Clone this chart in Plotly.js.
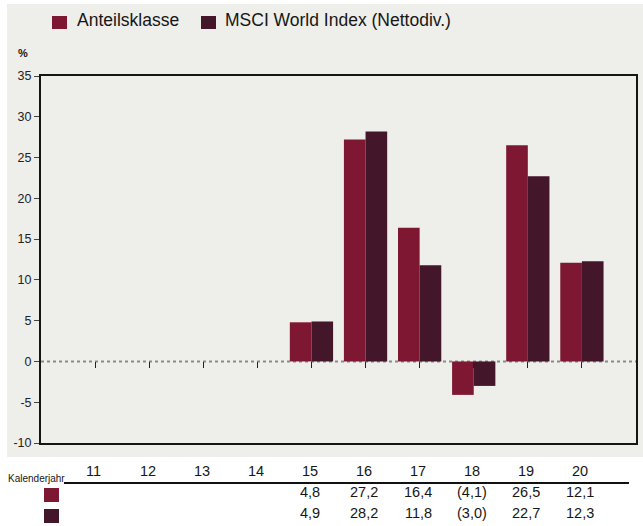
<!DOCTYPE html>
<html>
<head>
<meta charset="utf-8">
<script src="https://cdn.plot.ly/plotly-3.0.1.min.js"></script>
<style>html,body{margin:0;padding:0;background:#fff;}#chart{width:643px;height:526px;}</style>
</head>
<body>
<div id="chart"></div>
<script>
// ---- data ----
const years = ['11','12','13','14','15','16','17','18','19','20'];
const anteilsklasse = [null, null, null, null, 4.8, 27.2, 16.4, -4.1, 26.5, 12.1];
const msciWorld = [null, null, null, null, 4.9, 28.2, 11.8, -3.0, 22.7, 12.3];
const seriesNames = ['Anteilsklasse', 'MSCI World Index (Nettodiv.)'];
const yTicks = [-10, -5, 0, 5, 10, 15, 20, 25, 30, 35];

// ---- styling ----
const FONT = '"Liberation Sans", Arial, sans-serif';
const TXT = '#161616';
const C1 = '#7e1832';
const C2 = '#44162a';
const BG = '#eeeeea';
const W = 643, H = 526;
const M = {l: 41, r: 7, t: 76, b: 83};
const PW = W - M.l - M.r, PH = H - M.t - M.b;
const px = x => (x - M.l) / PW;
const py = y => (H - M.b - y) / PH;

function fmt(v) {
  if (v === null || v === undefined) return '';
  const s = Math.abs(v).toFixed(1).replace('.', ',');
  return v < 0 ? '(' + s + ')' : s;
}

const traces = [
  {type: 'bar', x: years, y: anteilsklasse, name: seriesNames[0], marker: {color: C1, line: {width: 0}}, hoverinfo: 'skip'},
  {type: 'bar', x: years, y: msciWorld, name: seriesNames[1], marker: {color: C2, line: {width: 0}}, hoverinfo: 'skip'}
];

const shapes = [
  {type: 'rect', xref: 'paper', yref: 'paper', x0: px(7), x1: px(643), y0: py(457), y1: py(4), fillcolor: BG, line: {width: 0}, layer: 'below'},
  {type: 'line', xref: 'paper', yref: 'y', x0: 0, x1: 1, y0: 0, y1: 0, line: {color: '#8a8a8a', width: 2, dash: 'dot'}, layer: 'below'},
  {type: 'rect', xref: 'paper', yref: 'paper', x0: px(52), x1: px(67), y0: py(29), y1: py(16), fillcolor: C1, line: {width: 0}},
  {type: 'rect', xref: 'paper', yref: 'paper', x0: px(201), x1: px(216), y0: py(29), y1: py(16), fillcolor: C2, line: {width: 0}},
  {type: 'line', xref: 'paper', yref: 'paper', x0: px(64), x1: px(629), y0: py(483), y1: py(483), line: {color: '#111', width: 2}},
  {type: 'rect', xref: 'paper', yref: 'paper', x0: px(44), x1: px(59), y0: py(502), y1: py(488), fillcolor: C1, line: {width: 0}},
  {type: 'rect', xref: 'paper', yref: 'paper', x0: px(44), x1: px(59), y0: py(523), y1: py(509), fillcolor: C2, line: {width: 0}}
];

const annotations = [
  {xref: 'paper', yref: 'paper', x: px(75), y: py(20), xanchor: 'left', yanchor: 'middle', text: seriesNames[0], showarrow: false, font: {family: FONT, size: 17.5, color: TXT}},
  {xref: 'paper', yref: 'paper', x: px(223), y: py(20), xanchor: 'left', yanchor: 'middle', text: seriesNames[1], showarrow: false, font: {family: FONT, size: 17.5, color: TXT}},
  {xref: 'paper', yref: 'paper', x: px(23), y: py(53), xanchor: 'center', yanchor: 'middle', text: '<b>%</b>', showarrow: false, font: {family: FONT, size: 11, color: TXT}},
  {xref: 'paper', yref: 'paper', x: px(6), y: py(478), xanchor: 'left', yanchor: 'middle', text: 'Kalenderjahr', showarrow: false, font: {family: FONT, size: 10, color: TXT}}
];
years.forEach((yr, i) => {
  const f = {family: FONT, size: 14.5, color: TXT};
  annotations.push({xref: 'x', yref: 'paper', x: i - 0.03, y: py(471), xanchor: 'center', yanchor: 'middle', text: yr, showarrow: false, font: f});
  annotations.push({xref: 'x', yref: 'paper', x: i - 0.03, y: py(492), xanchor: 'center', yanchor: 'middle', text: fmt(anteilsklasse[i]), showarrow: false, font: f});
  annotations.push({xref: 'x', yref: 'paper', x: i - 0.03, y: py(513), xanchor: 'center', yanchor: 'middle', text: fmt(msciWorld[i]), showarrow: false, font: f});
});

const layout = {
  width: W, height: H,
  margin: M,
  paper_bgcolor: '#ffffff',
  plot_bgcolor: BG,
  showlegend: false,
  barmode: 'group',
  bargap: 0.2,
  bargroupgap: 0,
  font: {family: FONT, color: TXT},
  xaxis: {
    type: 'category', categoryarray: years, categoryorder: 'array',
    range: [-1, 10], showgrid: false, zeroline: false,
    showticklabels: false, ticks: '',
    showline: true, mirror: true, linecolor: '#151515', linewidth: 2
  },
  xaxis2: {
    type: 'category', categoryarray: years, categoryorder: 'array',
    overlaying: 'x', anchor: 'free', position: 10 / 45, side: 'bottom',
    range: [-1, 10], showgrid: false, zeroline: false, showline: false,
    showticklabels: false, ticks: 'outside', ticklen: 6, tickwidth: 1, tickcolor: '#222'
  },
  yaxis: {
    range: [-10, 35], tickvals: yTicks, ticktext: yTicks.map(v => v < 0 ? '-' + Math.abs(v) : String(v)),
    showgrid: false, zeroline: false,
    ticks: 'outside', ticklen: 5, tickwidth: 1, tickcolor: '#444',
    tickfont: {family: FONT, size: 12.5, color: '#222'},
    showline: true, mirror: true, linecolor: '#151515', linewidth: 2
  },
  shapes: shapes,
  annotations: annotations
};

traces.push({type: 'scatter', x: years, y: years.map(() => null), xaxis: 'x2', yaxis: 'y', hoverinfo: 'skip', showlegend: false});

Plotly.newPlot('chart', traces, layout, {staticPlot: true, displayModeBar: false});
</script>
</body>
</html>
